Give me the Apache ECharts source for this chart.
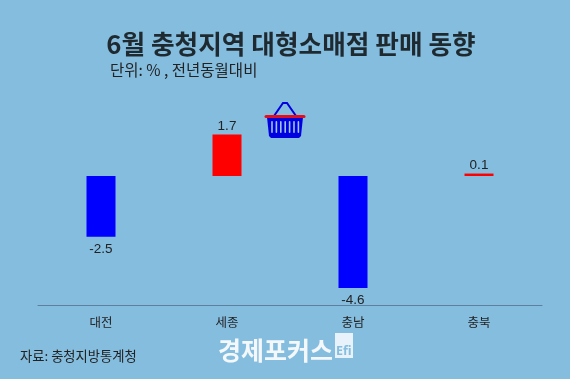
<!DOCTYPE html>
<html><head><meta charset="utf-8">
<style>html,body{margin:0;padding:0;background:#85bddf}#c{width:570px;height:379px}</style>
<script src="https://cdn.jsdelivr.net/npm/echarts@6/dist/echarts.min.js"></script>
</head><body><div id="c"></div>
<script>
const categories=['대전','세종','충남','충북'];
const values=[-2.5,1.7,-4.6,0.1];
const F='"Noto Sans CJK KR"';
const chart=echarts.init(document.getElementById('c'),null,{renderer:'canvas'});
const basketBars=[];
for(let i=0;i<7;i++){basketBars.push({type:'rect',shape:{x:271.2+i*4.4,y:121,width:1.6,height:12,r:0.8},style:{fill:'#9fc4ee'}});}
chart.setOption({
 animation:false,
 backgroundColor:'#85bddf',
 grid:{left:38,right:28,top:127.3,height:177.7},
 xAxis:{type:'category',data:categories,axisTick:{show:false},
  axisLine:{onZero:false,lineStyle:{color:'#5f7f9f',width:1}},
  axisLabel:{color:'#222',fontFamily:F,fontSize:12.5,margin:11}},
 yAxis:{type:'value',min:-5.3,max:2,show:false,splitLine:{show:false}},
 series:[{type:'bar',barWidth:29,data:values.map(v=>({value:v,itemStyle:{color:v>=0?'#ff0000':'#0000ff'},label:{distance:v>=0?1:5}})),
  label:{show:true,position:'outside',color:'#222',fontFamily:'"Liberation Sans"',fontSize:13.5,formatter:p=>String(p.value)}}],
 graphic:[
  {type:'text',x:291,y:44,style:{text:'6월 충청지역 대형소매점 판매 동향',fill:'#1f2a30',font:'700 25.7px '+F,textAlign:'center',textVerticalAlign:'middle'}},
  {type:'text',x:110,y:70,style:{text:'단위: % , 전년동월대비',fill:'#222',font:'400 15.5px '+F,textAlign:'left',textVerticalAlign:'middle'}},
  {type:'text',x:20,y:356,style:{text:'자료: 충청지방통계청',fill:'#222',font:'400 13.3px '+F,textAlign:'left',textVerticalAlign:'middle'}},
  {type:'text',x:218,y:350,style:{text:'경제포커스',fill:'#f4f8fb',font:'700 25px '+F,textAlign:'left',textVerticalAlign:'middle'}},
  {type:'rect',shape:{x:335,y:333,width:18,height:25},style:{fill:'#e8f2fa'}},
  {type:'text',x:336,y:351,style:{text:'Efi',fill:'#85bddf',font:'700 12.5px "Noto Sans"',textAlign:'left',textVerticalAlign:'middle'}},
  {type:'polyline',shape:{points:[[274,116],[283,103],[287,103],[296,116]]},style:{stroke:'#0000e0',fill:'none',lineWidth:2}},
  {type:'polygon',shape:{points:[[267,117],[303,117],[301,136],[299,138],[271,138],[269,136]]},style:{fill:'#0000e0'}},
  {type:'group',children:basketBars},
  {type:'rect',shape:{x:264.5,y:115,width:41,height:3,r:1.5},style:{fill:'#e01020'}}
 ]
});
</script></body></html>
